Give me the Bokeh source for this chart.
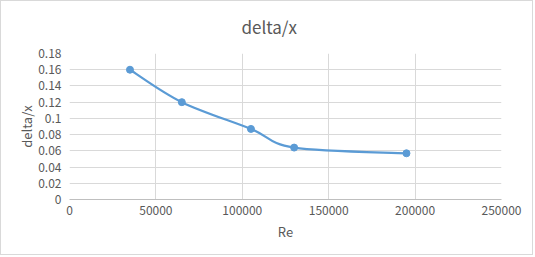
from bokeh.plotting import figure
from bokeh.embed import file_html
from bokeh.resources import INLINE
from bokeh.models import FixedTicker, NumeralTickFormatter

re_values = [35000, 65000, 105000, 130000, 195000]
delta_x = [0.160, 0.120, 0.087, 0.064, 0.057]
x_ticks = [0, 50000, 100000, 150000, 200000, 250000]
y_ticks = [0, 0.02, 0.04, 0.06, 0.08, 0.10, 0.12, 0.14, 0.16, 0.18]
title_text = "delta/x"

FONT = "Noto Sans CJK SC"
GRAY = "#595959"
LINE = "#5B9BD5"

p = figure(width=533, height=255, output_backend="svg", toolbar_location=None,
           x_range=(0, 250000), y_range=(0, 0.18),
           min_border_left=68, min_border_right=33, min_border_top=51, min_border_bottom=57,
           title=title_text, styles={"border": "1px solid #d9d9d9"})
p.outline_line_color = None
p.background_fill_color = "white"
p.border_fill_color = "white"

p.title.align = "left"
p.title.offset = 172
p.title.vertical_align = "top"
p.title.standoff = 25
p.title.text_font = FONT
p.title.text_font_size = "17px"
p.title.text_font_style = "normal"
p.title.text_color = GRAY

for ax in (p.xaxis[0], p.yaxis[0]):
    ax.major_tick_line_color = None
    ax.minor_tick_line_color = None
    ax.major_tick_in = 0
    ax.major_tick_out = 0
    ax.minor_tick_in = 0
    ax.minor_tick_out = 0
    ax.major_label_text_font = FONT
    ax.major_label_text_font_size = "12px"
    ax.major_label_text_color = GRAY
    ax.axis_label_text_font = FONT
    ax.axis_label_text_font_size = "13px"
    ax.axis_label_text_font_style = "normal"
    ax.axis_label_text_color = GRAY

p.xaxis.ticker = FixedTicker(ticks=x_ticks)
p.yaxis.ticker = FixedTicker(ticks=y_ticks)
p.xaxis.formatter = NumeralTickFormatter(format="0")
p.yaxis.formatter = NumeralTickFormatter(format="0.[00]")
p.xaxis.axis_label = "Re"
p.yaxis.axis_label = "delta/x"
p.xaxis.axis_line_color = "#bfbfbf"
p.yaxis.axis_line_color = None
p.xaxis.major_label_standoff = 6
p.yaxis.major_label_standoff = 8
p.xaxis.axis_label_standoff = 4
p.yaxis.axis_label_standoff = -1

p.xgrid.grid_line_color = "#d9d9d9"
p.ygrid.grid_line_color = "#d9d9d9"

# smoothed line (Catmull-Rom style bezier through the data points)
n = len(re_values)
pts = list(zip(re_values, delta_x))
x0s, y0s, x1s, y1s, cx0, cy0, cx1, cy1 = [], [], [], [], [], [], [], []
for i in range(n - 1):
    pm = pts[max(i - 1, 0)]
    p0 = pts[i]
    p1 = pts[i + 1]
    p2 = pts[min(i + 2, n - 1)]
    x0s.append(p0[0]); y0s.append(p0[1])
    x1s.append(p1[0]); y1s.append(p1[1])
    cx0.append(p0[0] + (p1[0] - pm[0]) / 6); cy0.append(p0[1] + (p1[1] - pm[1]) / 6)
    cx1.append(p1[0] - (p2[0] - p0[0]) / 6); cy1.append(p1[1] - (p2[1] - p0[1]) / 6)

p.bezier(x0=x0s, y0=y0s, x1=x1s, y1=y1s, cx0=cx0, cy0=cy0, cx1=cx1, cy1=cy1,
         line_color=LINE, line_width=2.25)
p.scatter(re_values, delta_x, size=7, fill_color=LINE, line_color=LINE)

open("out.html", "w").write(file_html(p, INLINE))
